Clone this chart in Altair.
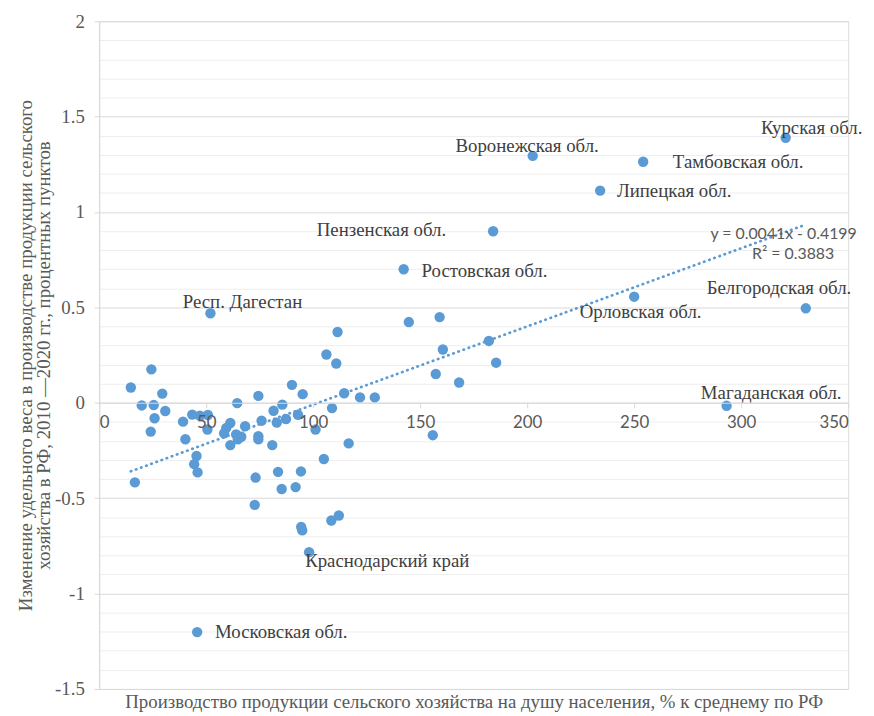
import altair as alt
import pandas as pd

# ---------------- data ----------------
named_regions = ["Курская обл.", "Тамбовская обл.", "Липецкая обл.", "Воронежская обл.",
                 "Пензенская обл.", "Ростовская обл.", "Орловская обл.", "Белгородская обл.",
                 "Магаданская обл.", "Респ. Дагестан", "Московская обл.", "Краснодарский край"]
named_x = [320.8, 254.2, 234.1, 202.6, 184.1, 142.3, 250.0, 330.2, 293.2, 52.0, 45.8, 98.1]
named_y = [1.389, 1.263, 1.112, 1.294, 0.899, 0.700, 0.556, 0.495, -0.016, 0.469, -1.202, -0.783]

other_x = [144.7, 159.1, 111.4, 106.2, 110.8, 160.6, 182.1, 185.5, 157.3, 168.2, 114.5, 121.9,
           128.8, 108.8, 155.9, 116.6,
           90.1, 95.1, 74.4, 64.5, 85.6, 81.5, 92.9, 87.3, 83.0, 75.9, 101.1, 68.2, 61.3, 59.4,
           58.4, 64.0, 66.4, 64.8, 74.4, 74.4, 61.3, 80.9, 105.0, 73.1, 83.6, 94.3, 85.3, 91.8,
           72.7, 94.4, 94.9, 108.5, 112.0,
           14.8, 24.4, 29.5, 19.9, 25.5, 30.9, 25.9, 24.1, 43.5, 47.1, 50.8, 39.2, 40.3, 50.6,
           45.5, 44.4, 46.0, 16.7]
other_y = [0.423, 0.449, 0.371, 0.253, 0.206, 0.279, 0.324, 0.210, 0.151, 0.106, 0.050, 0.028,
           0.028, -0.028, -0.170, -0.213,
           0.094, 0.045, 0.036, -0.002, -0.010, -0.042, -0.063, -0.085, -0.104, -0.094, -0.140,
           -0.123, -0.106, -0.132, -0.160, -0.166, -0.178, -0.192, -0.175, -0.192, -0.222,
           -0.222, -0.295, -0.392, -0.362, -0.360, -0.452, -0.442, -0.535, -0.651, -0.669,
           -0.617, -0.591,
           0.080, 0.175, 0.048, -0.014, -0.012, -0.043, -0.081, -0.151, -0.062, -0.068, -0.064,
           -0.099, -0.191, -0.140, -0.279, -0.322, -0.365, -0.417]

# label offsets from their point, in pixels (left edge of text, vertical centre)
label_dx = [-25, 30, 17, -78, -178, 18, -55, -100, -26, -28, 18, -4]
label_dy = [-10, 0, 0, -10, -1, 2, 16, -20, -13, -11, 0, 9]

x_ticks = [0, 50, 100, 150, 200, 250, 300, 350]
y_ticks = [round(-1.5 + 0.1 * i, 1) for i in range(36)]

trend_slope = 0.0041
trend_intercept = -0.4199
trend_text = ["y = 0.0041x - 0.4199", "R\u00b2 = 0.3883"]
trend_text_x = [354.0, 343.5]
trend_text_y = [0.884, 0.780]

x_title = "Производство продукции сельского хозяйства на душу населения, % к среднему по РФ"
y_title = ["Изменение удельного веса в производстве продукции сельского",
           "хозяйства в РФ, 2010 —2020 гг., процентных пунктов"]

# ---------------- layout ----------------
W, H = 756, 674
X_DOMAIN = [0, 350]
Y_DOMAIN = [-1.5, 2]
kx = W / (X_DOMAIN[1] - X_DOMAIN[0])
ky = H / (Y_DOMAIN[1] - Y_DOMAIN[0])
zero_from_bottom = (0 - Y_DOMAIN[0]) * ky

BLUE = "#5b9bd5"
SERIF = "Liberation Serif"
SANS = "Lato"
major_test = "abs(datum.value*2 - round(datum.value*2)) < 0.001"

xscale = alt.Scale(domain=X_DOMAIN, nice=False, zero=False)
yscale = alt.Scale(domain=Y_DOMAIN, nice=False, zero=False)

xaxis = alt.Axis(values=x_ticks, tickCount=20, offset=-zero_from_bottom, grid=False,
                 domainColor="#d9d9d9", tickColor="#d9d9d9", tickSize=5,
                 labelFont=SANS, labelFontSize=17, labelColor="#595959", labelPadding=7,
                 labelOverlap=False,
                 title=x_title, titleFont=SERIF, titleFontSize=19, titleFontWeight="normal",
                 titleColor="#595959", titleBaseline="middle", titleY=zero_from_bottom + 13,
                 zindex=1)
yaxis = alt.Axis(values=y_ticks, tickCount=100, grid=True,
                 gridColor={"condition": {"test": major_test, "value": "#d9d9d9"}, "value": "#eeeeee"},
                 tickColor={"condition": {"test": major_test, "value": "#d9d9d9"}, "value": "transparent"},
                 tickSize=5, domainColor="#d9d9d9", labelOverlap=False,
                 labelExpr=f"{major_test} ? toString(datum.value) : ''",
                 labelFont=SERIF, labelFontSize=19, labelColor="#595959", labelPadding=10,
                 title=y_title, titleFont=SERIF, titleFontSize=19, titleFontWeight="normal",
                 titleColor="#595959", titlePadding=1, titleLineHeight=18)

pts = pd.DataFrame({"x": named_x + other_x, "y": named_y + other_y})
points = alt.Chart(pts).mark_circle(size=110, opacity=1, color=BLUE).encode(
    x=alt.X("x:Q", scale=xscale, axis=xaxis),
    y=alt.Y("y:Q", scale=yscale, axis=yaxis),
)

xmin, xmax = min(named_x + other_x), max(named_x + other_x)
trend_df = pd.DataFrame({"x": [xmin, xmax],
                         "y": [trend_slope * xmin + trend_intercept, trend_slope * xmax + trend_intercept]})
trend = alt.Chart(trend_df).mark_line(color=BLUE, strokeWidth=2.7, strokeDash=[0.5, 5],
                                      strokeCap="round").encode(
    x=alt.X("x:Q", scale=xscale), y=alt.Y("y:Q", scale=yscale))

lab_df = pd.DataFrame({
    "name": named_regions,
    "lx": [x + dx / kx for x, dx in zip(named_x, label_dx)],
    "ly": [y - dy / ky for y, dy in zip(named_y, label_dy)],
})
labels = alt.Chart(lab_df).mark_text(align="left", baseline="middle", font=SERIF, fontSize=19,
                                     color="#404040").encode(
    x=alt.X("lx:Q", scale=xscale), y=alt.Y("ly:Q", scale=yscale), text="name:N")

tt_df = pd.DataFrame({"t": trend_text, "x": trend_text_x, "y": trend_text_y})
trend_lab = alt.Chart(tt_df).mark_text(align="right", baseline="middle", font=SANS, fontSize=16,
                                       color="#595959").encode(
    x=alt.X("x:Q", scale=xscale), y=alt.Y("y:Q", scale=yscale), text="t:N")

chart = alt.layer(trend, points, labels, trend_lab).properties(
    width=W, height=H,
    autosize=alt.AutoSizeParams(type="none"),
    padding={"left": 92, "top": 10, "right": 18, "bottom": 24},
).configure_view(stroke=None).configure(background="white")

chart.save("out.html", embed_options={"renderer": "svg", "actions": False})
